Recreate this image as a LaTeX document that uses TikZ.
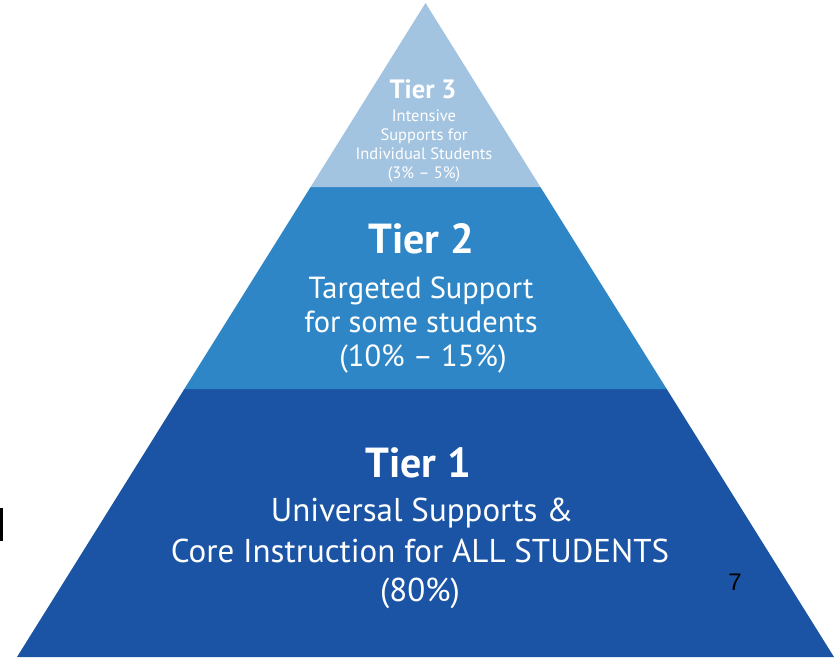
\documentclass[tikz,border=0pt]{standalone}
\usepackage{fontspec}
\setmainfont{PT Sans}
\newfontfamily\arialfont{Liberation Sans}
\definecolor{tierthree}{RGB}{163,196,224}
\definecolor{tiertwo}{RGB}{46,134,198}
\definecolor{tierone}{RGB}{27,84,164}
\begin{document}
\begin{tikzpicture}[x=1pt,y=-1pt,
  lbl/.style={text=white,anchor=base,inner sep=0pt,font=\bfseries},
  body/.style={text=white,anchor=base,inner sep=0pt}]
\useasboundingbox (0,0) rectangle (834,657);
% geometry
\coordinate (apex) at (425.5,3);
\coordinate (bl) at (17,657);
\coordinate (br) at (834,657);
\coordinate (l2) at (184.3,389);
\coordinate (r2) at (666.7,389);
\coordinate (l3) at (310.6,187);
\coordinate (r3) at (540.4,187);
\fill[tierone] (bl) -- (br) -- (r2) -- (l2) -- cycle;
\fill[tiertwo] (l2) -- (r2) -- (r3) -- (l3) -- cycle;
\fill[tierthree] (l3) -- (r3) -- (apex) -- cycle;
% Tier 3
\node[lbl,font=\bfseries\fontsize{26.5}{26.5}\selectfont] (t3) at (423,98) {Tier 3};
\node[body,font=\fontsize{16.5}{19}\selectfont] (t3a) at (424,121) {Intensive};
\node[body,font=\fontsize{16.5}{19}\selectfont] (t3b) at (424,140) {Supports for};
\node[body,font=\fontsize{16.5}{19}\selectfont] (t3c) at (424,159) {Individual Students};
\node[body,font=\fontsize{16.5}{19}\selectfont] (t3d) at (424,178) {(3\% -- 5\%)};
% Tier 2
\node[lbl,font=\bfseries\fontsize{42}{42}\selectfont] (t2) at (421,253) {Tier 2};
\node[body,font=\fontsize{30.5}{35}\selectfont] (t2a) at (421,298) {Targeted Support};
\node[body,font=\fontsize{30.5}{35}\selectfont] (t2b) at (421,332) {for some students};
\node[body,font=\fontsize{30.5}{35}\selectfont] (t2c) at (423,366) {(10\% -- 15\%)};
% Tier 1
\node[lbl,font=\bfseries\fontsize{42}{42}\selectfont] (t1) at (418,477) {Tier 1};
\node[body,font=\fontsize{33}{41}\selectfont] (t1a) at (422,521) {Universal Supports \&};
\node[body,font=\fontsize{33}{41}\selectfont] (t1b) at (420,562) {Core Instruction for ALL STUDENTS};
\node[body,font=\fontsize{33}{41}\selectfont] (t1c) at (420,601) {(80\%)};
% page number and cut-off mark
\node[anchor=base,inner sep=0pt,font=\arialfont\fontsize{24}{24}\selectfont] (pg) at (735,590) {7};
\fill[black] (0,508) rectangle (2.5,541);
\end{tikzpicture}
\end{document}
